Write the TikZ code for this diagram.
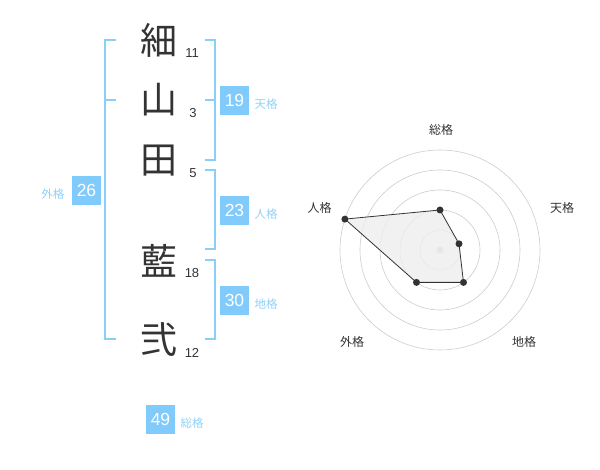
\documentclass[tikz,border=0pt]{standalone}
\usepackage{fontspec}
\setmainfont{Liberation Sans}
\newfontfamily\cjk{Noto Sans CJK JP}
\definecolor{kanjigray}{HTML}{333333}
\definecolor{boxblue}{HTML}{80CBFB}
\definecolor{lblblue}{HTML}{8FD1F8}
\definecolor{brblue}{HTML}{8ACFFA}
\definecolor{ringgray}{HTML}{CCCCCC}
\definecolor{polyfill}{HTML}{EEEEEE}
\tikzset{
  kanji/.style={font=\cjk\fontsize{37}{37}\selectfont, text=kanjigray, inner sep=0pt},
  strokes/.style={font=\fontsize{13}{13}\selectfont, text=kanjigray, inner sep=0pt},
  numbox/.style={fill=boxblue, text=white, minimum size=29pt, inner sep=0pt, font=\fontsize{17.5}{17.5}\selectfont},
  kaku/.style={font=\cjk\fontsize{11.5}{11.5}\selectfont, text=lblblue, inner sep=0pt},
  bracket/.style={draw=brblue, line width=2pt},
  ring/.style={draw=ringgray, line width=0.6pt},
  axislbl/.style={font=\cjk\fontsize{12}{12}\selectfont, text=kanjigray, inner sep=0pt},
  dot/.style={circle, fill=kanjigray, minimum size=7pt, inner sep=0pt},
  cdot/.style={circle, fill=ringgray, minimum size=7pt, inner sep=0pt},
}
\begin{document}
\begin{tikzpicture}[x=1pt,y=-1pt]
\useasboundingbox (0,0) rectangle (600,470);
% characters
\node[kanji] (k1) at (159,40) {細};
\node[kanji] (k2) at (159,100) {山};
\node[kanji] (k3) at (159,161) {田};
\node[kanji] (k4) at (159,260.5) {藍};
\node[kanji] (k5) at (159,340) {弐};
\node[strokes] (n1) at (192,53) {11};
\node[strokes] (n2) at (193,113) {3};
\node[strokes] (n3) at (193,173) {5};
\node[strokes] (n4) at (192,273) {18};
\node[strokes] (n5) at (192,353) {12};
% brackets
\draw[bracket] (116,40) -- (105,40) -- (105,339.5) -- (116,339.5);
\draw[bracket] (105,100) -- (116,100);
\draw[bracket] (205,40) -- (215,40) -- (215,160) -- (205,160);
\draw[bracket] (205,100) -- (215,100);
\draw[bracket] (205,170) -- (215,170) -- (215,249.5) -- (205,249.5);
\draw[bracket] (205,260) -- (215,260) -- (215,339.5) -- (205,339.5);
% boxes
\node[numbox] (b1) at (234.5,100.5) {19};
\node[kaku] (l1) at (266,104) {天格};
\node[numbox] (b2) at (234.5,210.5) {23};
\node[kaku] (l2) at (266,214) {人格};
\node[numbox] (b3) at (234.5,300.5) {30};
\node[kaku] (l3) at (266,304) {地格};
\node[numbox] (b4) at (86.5,190.5) {26};
\node[kaku] (l4) at (53,194) {外格};
\node[numbox] (b5) at (160.5,419.5) {49};
\node[kaku] (l5) at (192,423) {総格};
% radar
\foreach \r in {20,40,60,80,100} \draw[ring] (440,250) circle[radius=\r];
\node[cdot] (ctr) at (440,250) {};
\node[axislbl] (a1) at (441,130) {総格};
\node[axislbl] (a2) at (562,208) {天格};
\node[axislbl] (a3) at (524,342) {地格};
\node[axislbl] (a4) at (352,342) {外格};
\node[axislbl] (a5) at (319.5,208) {人格};
\coordinate (ps) at (440,210);
\coordinate (pt) at (459,243.8);
\coordinate (pc) at (463.5,282.4);
\coordinate (pg) at (416.5,282.4);
\coordinate (pj) at (344.9,219.1);
\filldraw[fill=polyfill, draw=kanjigray, line width=0.8pt, fill opacity=0.8] (ps) -- (pt) -- (pc) -- (pg) -- (pj) -- cycle;
\node[dot] (ds) at (ps) {};
\node[dot] (dt) at (pt) {};
\node[dot] (dc) at (pc) {};
\node[dot] (dg) at (pg) {};
\node[dot] (dj) at (pj) {};
\end{tikzpicture}
\end{document}
